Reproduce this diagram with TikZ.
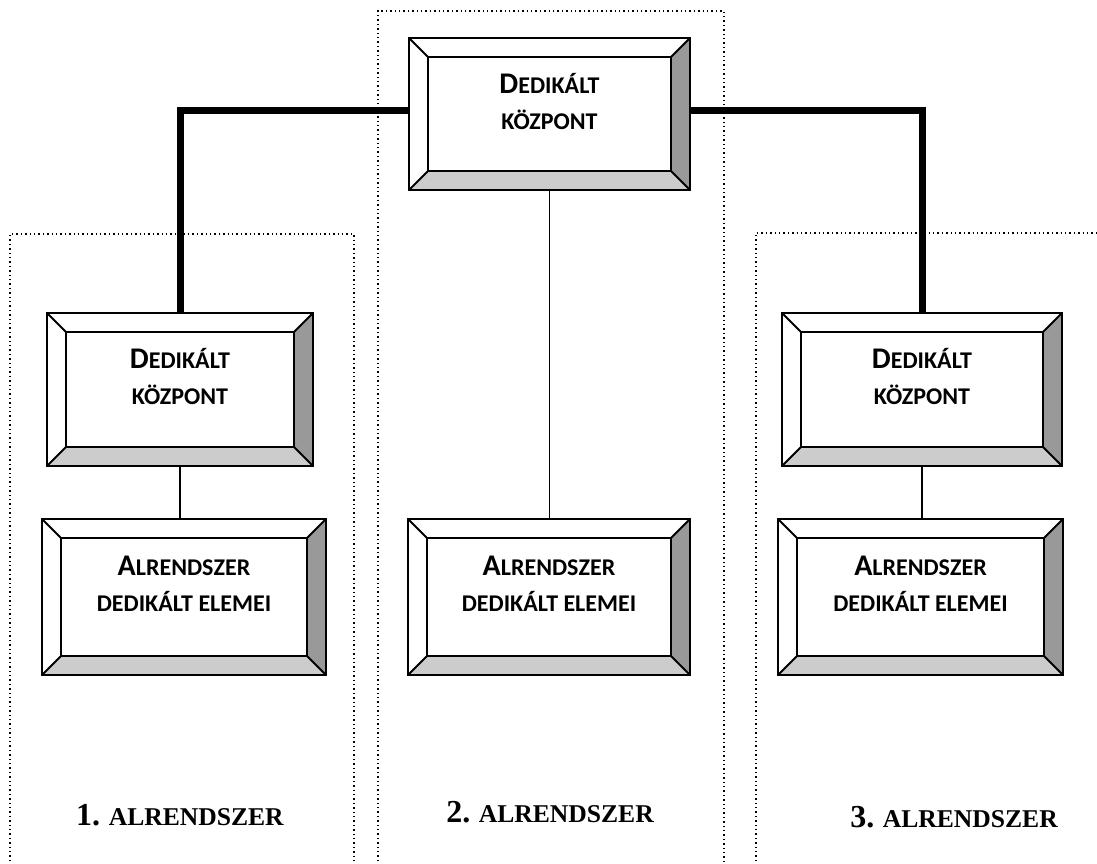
\documentclass[tikz,border=0pt]{standalone}
\usepackage{fontspec}
\setmainfont{Liberation Serif}
\newfontfamily\boxfont{Carlito}
\definecolor{bevdark}{HTML}{999999}
\definecolor{bevlight}{HTML}{CCCCCC}
\newcommand{\bevw}{9.5pt}
\newcommand{\nagykis}[2]{{\fontsize{15pt}{18pt}\selectfont #1}#2}
\newcommand{\szam}[1]{{\fontsize{16pt}{18pt}\selectfont #1}}
\tikzset{
  bevelbox/.style={draw, line width=0.45mm, inner sep=0pt,
    path picture={
      \coordinate (pne) at (path picture bounding box.north east);
      \coordinate (pnw) at (path picture bounding box.north west);
      \coordinate (pse) at (path picture bounding box.south east);
      \coordinate (psw) at (path picture bounding box.south west);
      \coordinate (ine) at ([xshift=-\bevw,yshift=-\bevw]pne);
      \coordinate (inw) at ([xshift=\bevw,yshift=-\bevw]pnw);
      \coordinate (ise) at ([xshift=-\bevw,yshift=\bevw]pse);
      \coordinate (isw) at ([xshift=\bevw,yshift=\bevw]psw);
      \fill[bevdark] (pne) -- (ine) -- (ise) -- (pse) -- cycle;
      \fill[bevlight] (psw) -- (isw) -- (ise) -- (pse) -- cycle;
      \draw[line width=0.35mm] (inw) rectangle (ise);
      \draw[line width=0.35mm] (pnw) -- (inw) (pne) -- (ine) (pse) -- (ise) (psw) -- (isw);
    }},
  boxtext/.style={font=\boxfont\bfseries\fontsize{12pt}{18pt}\selectfont, align=center},
  sublabel/.style={font=\bfseries\fontsize{12.8pt}{15pt}\selectfont, anchor=base},
  frame/.style={dash pattern=on 0.7pt off 1.5pt, line width=0.7pt},
  trunk/.style={line width=1.23mm},
  branch/.style={line width=0.27mm}
}
\begin{document}
\begin{tikzpicture}[x=0.5pt, y=-0.5pt]
    \clip (0,0) rectangle (1097,863);
    % alrendszerek keretei
    \draw[frame] (10,870) -- (10,234) -- (354,234) -- (354,870);
    \draw[frame] (378,870) -- (378,11) -- (724,11) -- (724,870);
    \draw[frame] (756,870) -- (756,233) -- (1100,233);

    \node[bevelbox, minimum width=140.5pt, minimum height=76pt] (kozp) at (549.5,114) {};
    \node[bevelbox, minimum width=133pt, minimum height=76.5pt] (kozp1) at (180,389.5) {};
    \node[bevelbox, minimum width=140pt, minimum height=76.5pt] (kozp3) at (922,389.5) {};
    \node[bevelbox, minimum width=142pt, minimum height=78pt] (elem1) at (184,597) {};
    \node[bevelbox, minimum width=141pt, minimum height=78pt] (elem2) at (549,597) {};
    \node[bevelbox, minimum width=142.5pt, minimum height=78pt] (elem3) at (920.5,597) {};

    \draw[trunk] (kozp1.north) |- ([yshift=2pt]kozp.west);
    \draw[trunk] (kozp3.north) |- ([yshift=2pt]kozp.east);
    \draw[branch] (kozp1.south) -- (kozp1.south |- elem1.north);
    \draw[branch] (kozp.south) -- (kozp.south |- elem2.north);
    \draw[branch] (kozp3.south) -- (kozp3.south |- elem3.north);

    \node[boxtext] (kozp-t) at ([yshift=6.5pt]kozp) {\nagykis{D}{EDIKÁLT}\\KÖZPONT};
    \node[boxtext] (kozp1-t) at ([yshift=6.5pt]kozp1) {\nagykis{D}{EDIKÁLT}\\KÖZPONT};
    \node[boxtext] (kozp3-t) at ([yshift=6.5pt]kozp3) {\nagykis{D}{EDIKÁLT}\\KÖZPONT};
    \node[boxtext] (elem1-t) at ([yshift=6.5pt]elem1) {\nagykis{A}{LRENDSZER}\\DEDIKÁLT ELEMEI};
    \node[boxtext] (elem2-t) at ([yshift=6.5pt]elem2) {\nagykis{A}{LRENDSZER}\\DEDIKÁLT ELEMEI};
    \node[boxtext] (elem3-t) at ([yshift=6.5pt]elem3) {\nagykis{A}{LRENDSZER}\\DEDIKÁLT ELEMEI};

    \node[sublabel] (lab1) at (180,825) {\szam{1.} ALRENDSZER};
    \node[sublabel] (lab2) at (550,822) {\szam{2.} ALRENDSZER};
    \node[sublabel] (lab3) at (954,827) {\szam{3.} ALRENDSZER};
\end{tikzpicture}
\end{document}
